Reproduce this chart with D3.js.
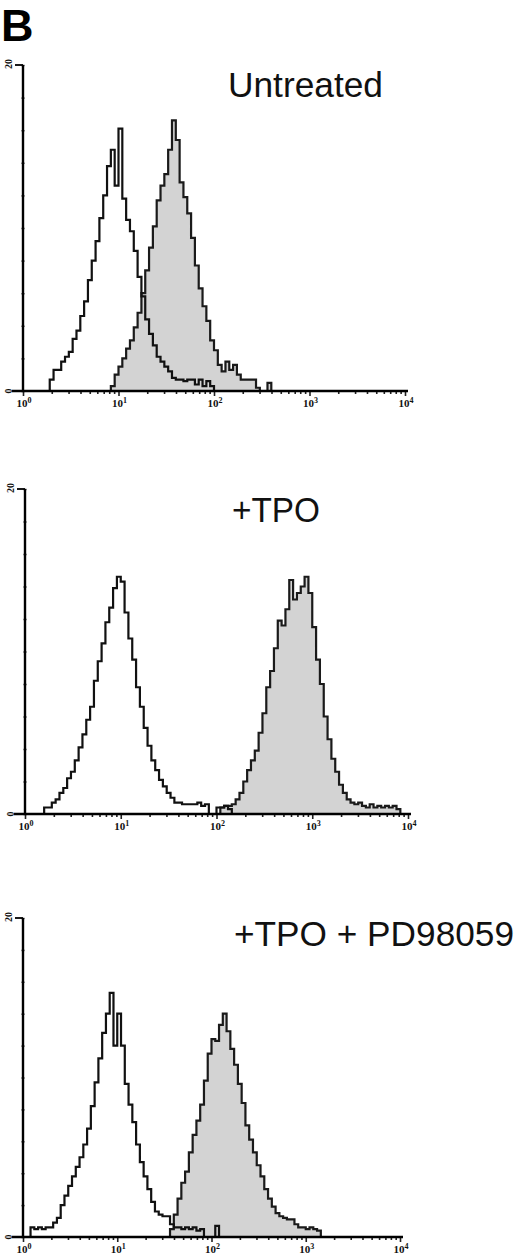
<!DOCTYPE html>
<html><head><meta charset="utf-8">
<script src="https://cdn.jsdelivr.net/npm/d3@7"></script>
<style>body{margin:0;background:#fff} svg{display:block}</style>
</head><body>
<svg id="chart" width="520" height="1256"></svg>
<script>
// ---------- DATA ----------
const panelLetter = "B";
const panelTitles = ["Untreated", "+TPO", "+TPO + PD98059"];
const decadeExponents = ["0", "1", "2", "3", "4"];
const countTickLabels = ["0", "20"];
const countMax = 20;
const binWidth = 0.04; // bin width in decades (log10 units)

// Panel 1 (Untreated): control (open) and stained (filled)
const untreatedControlStart = 0.28;
const untreatedControl = [0.7,1.3,1.3,1.8,2.1,2.4,3.2,3.7,4.6,5.5,6.8,8.0,9.2,10.6,12.0,13.8,14.8,12.6,16.1,11.8,10.5,9.8,8.6,7.0,5.8,4.4,3.5,2.8,2.1,1.8,1.5,1.2,0.8,0.7,0.7,0.6,0.7,0.7,0.4,0.7,0.3,0.6,0.3];
const untreatedStainedStart = 0.92;
const untreatedStained = [0.3,1.0,1.5,2.0,2.6,3.1,3.9,4.8,6.0,7.4,8.8,10.1,11.7,12.6,13.3,14.8,16.6,15.4,12.8,11.9,10.9,9.4,7.7,6.3,5.2,4.3,3.1,2.5,1.6,1.2,1.8,1.3,1.6,1.0,0.7,0.7,0.7,0.7,0.2,0,0,0.5];

// Panel 2 (+TPO)
const tpoControlStart = 0.20;
const tpoControl = [0.4,0.4,0.7,0.9,1.3,1.6,2.2,2.6,3.3,4.1,4.9,5.8,6.6,8.2,9.4,10.5,11.8,12.7,13.9,14.6,14.3,12.4,10.8,9.5,7.8,6.6,5.3,4.2,3.3,2.7,2.1,1.7,1.3,1.0,0.7,0.7,0.6,0.6,0.6,0.6,0.7,0.5,0.6,0,0,0.4,0.4,0.5,0.3];
const tpoStainedStart = 2.04;
const tpoStained = [0.4,0.5,0.5,0.6,0.9,1.3,2.0,2.7,3.3,3.9,5.0,6.2,7.8,8.8,10.2,11.9,11.6,12.6,14.4,13.2,13.6,14.0,14.6,13.6,11.5,9.5,8.0,6.0,4.6,3.4,2.6,1.8,1.3,0.9,0.7,0.6,0.7,0.5,0.4,0.6,0.4,0.5,0.4,0.5,0.4,0.5,0.3];

// Panel 3 (+TPO + PD98059)
const pdControlStart = 0.08;
const pdControl = [0.6,0.5,0.6,0.5,0.6,0.6,0.9,1.2,2.0,2.6,3.2,3.8,4.4,5.0,5.8,6.8,8.2,9.7,11.2,12.8,14.0,15.3,12.0,14.0,12.0,9.6,8.3,7.2,5.8,4.7,3.8,3.0,2.2,1.6,1.4,1.3,1.3,0.8,0.6,0.6,0.5,0.6,0.5,0.6,0.4,0.5,0,0,0,0.7];
const pdStainedStart = 1.56;
const pdStained = [0.5,1.4,2.4,3.4,4.1,5.3,6.4,7.3,8.3,9.8,11.5,12.4,12.3,13.3,14.0,12.9,11.8,10.8,9.6,8.4,7.0,6.1,5.3,4.5,3.8,3.0,2.4,1.9,1.5,1.3,1.2,1.1,1.1,0.8,0.6,0.6,0.5,0.6,0.5,0.4];

// ---------- LAYOUT ----------
const panels = [
  {title: panelTitles[0], control: [untreatedControlStart, untreatedControl], stained: [untreatedStainedStart, untreatedStained],
   L: {x0: 23, x4: 405, top: 65, base: 391, tx: 228, ty: 97, tw: 155}},
  {title: panelTitles[1], control: [tpoControlStart, tpoControl], stained: [tpoStainedStart, tpoStained],
   L: {x0: 25, x4: 408, top: 489, base: 814, tx: 232, ty: 522, tw: 88}},
  {title: panelTitles[2], control: [pdControlStart, pdControl], stained: [pdStainedStart, pdStained],
   L: {x0: 23, x4: 400, top: 918, base: 1237, tx: 234, ty: 946, tw: 280}}
];

const svg = d3.select("#chart");
svg.append("text").attr("x", 1).attr("y", 41)
  .attr("font-family", "Liberation Sans, Arial, sans-serif").attr("font-weight", "bold")
  .attr("font-size", 45).attr("fill", "#000").text(panelLetter);

function stepPoints(start, counts) {
  const pts = [[start, 0]];
  counts.forEach((c, i) => {
    const lo = start + i * binWidth, hi = lo + binWidth;
    pts.push([lo, c], [hi, c]);
  });
  pts.push([start + counts.length * binWidth, 0]);
  return pts;
}

panels.forEach(p => {
  const L = p.L;
  const g = svg.append("g");
  const x = d3.scaleLog().domain([1, 1e4]).range([L.x0, L.x4]);
  const y = d3.scaleLinear().domain([0, countMax]).range([L.base, L.top]);
  const line = d3.line().x(d => x(Math.pow(10, d[0]))).y(d => y(d[1])).curve(d3.curveLinear);

  const sPts = stepPoints(p.stained[0], p.stained[1]);
  const cPts = stepPoints(p.control[0], p.control[1]);

  g.append("path").attr("d", line(sPts) + "Z").attr("fill", "#d3d3d3").attr("stroke", "none");
  g.append("path").attr("d", line(sPts)).attr("fill", "none").attr("stroke", "#1a1a1a").attr("stroke-width", 2.2).attr("stroke-linejoin", "miter");
  g.append("path").attr("d", line(cPts)).attr("fill", "none").attr("stroke", "#111").attr("stroke-width", 2.2).attr("stroke-linejoin", "miter");

  // minor x ticks
  const minor = [];
  for (let d = 0; d < 4; d++) for (let m = 2; m <= 9; m++) minor.push(m * Math.pow(10, d));
  const majors = decadeExponents.map(e => Math.pow(10, +e));
  const axMinor = d3.axisBottom(x).tickValues(minor).tickSize(3).tickFormat("");
  const axMajor = d3.axisBottom(x).tickValues(majors).tickSize(5).tickFormat("");
  [axMinor, axMajor].forEach(ax => {
    const a = g.append("g").attr("transform", `translate(0,${L.base})`).call(ax);
    a.select(".domain").remove();
    a.selectAll("line").attr("stroke", "#222").attr("stroke-width", 1.6);
  });

  // y ticks
  const yt = d3.range(0, countMax + 1, 2);
  const ayt = g.append("g").attr("transform", `translate(${L.x0 + 1.5},0)`)
    .call(d3.axisLeft(y).tickValues(yt).tickSize(3).tickFormat(""));
  ayt.select(".domain").remove();
  ayt.selectAll("line").attr("stroke", "#333").attr("stroke-width", 1.5);

  // axis lines
  g.append("line").attr("x1", L.x0 - 11).attr("x2", L.x4 + 3).attr("y1", L.base).attr("y2", L.base)
    .attr("stroke", "#000").attr("stroke-width", 2.4);
  g.append("line").attr("x1", L.x0).attr("x2", L.x0).attr("y1", L.top).attr("y2", L.base)
    .attr("stroke", "#000").attr("stroke-width", 2.4);
  g.append("line").attr("x1", L.x0 - 8).attr("x2", L.x0).attr("y1", L.top).attr("y2", L.top)
    .attr("stroke", "#000").attr("stroke-width", 1.8);

  // decade labels
  decadeExponents.forEach(e => {
    const t = g.append("text").attr("x", x(Math.pow(10, +e)) + 1).attr("y", L.base + 16)
      .attr("text-anchor", "middle").attr("font-family", "Liberation Serif, serif")
      .attr("font-weight", "bold").attr("font-size", 11).attr("fill", "#111");
    t.append("tspan").text("10");
    t.append("tspan").attr("dy", -4).attr("font-size", 8).text(e);
  });

  // count labels (rotated)
  g.append("text").attr("transform", `translate(${L.x0 - 11},${L.base}) rotate(-90)`)
    .attr("text-anchor", "middle").attr("font-family", "Liberation Serif, serif").attr("font-weight", "bold")
    .attr("font-size", 10).attr("fill", "#111").text(countTickLabels[0]);
  g.append("text").attr("transform", `translate(${L.x0 - 11},${L.top - 1}) rotate(-90)`)
    .attr("text-anchor", "middle").attr("font-family", "Liberation Serif, serif").attr("font-weight", "bold")
    .attr("font-size", 10).attr("fill", "#111").text(countTickLabels[1]);

  // title
  g.append("text").attr("x", L.tx).attr("y", L.ty)
    .attr("font-family", "Liberation Sans, Arial, sans-serif").attr("font-size", 35).attr("fill", "#111")
    .attr("textLength", L.tw).attr("lengthAdjust", "spacingAndGlyphs")
    .text(p.title);
});
</script>
</body></html>
